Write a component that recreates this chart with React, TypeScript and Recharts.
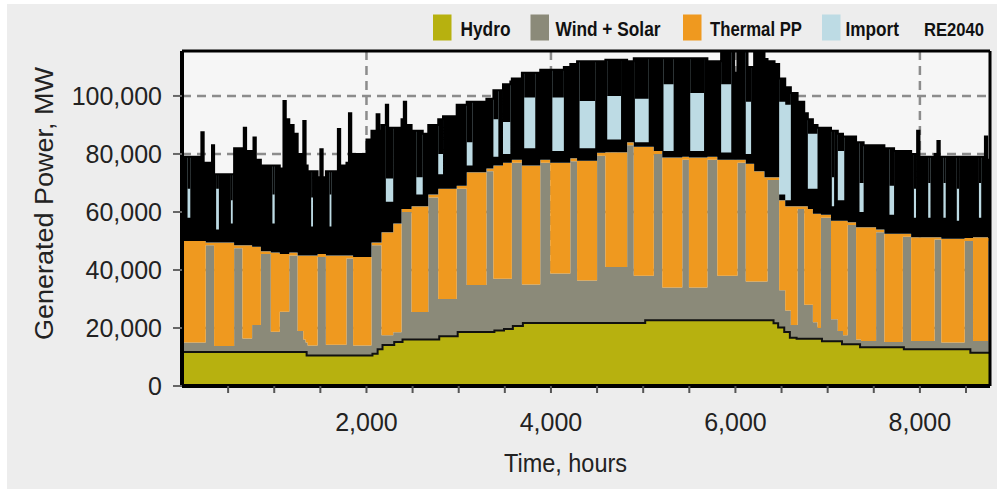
import React from 'react';
import { ComposedChart, Area, XAxis, YAxis, CartesianGrid, ReferenceLine } from 'recharts';

const N = null;

// Hour at which each row starts (values hold until the next row)
const hours = [
  0, 60, 90, 210, 235, 257, 325, 348, 370, 400, 530, 550,
  565, 655, 670, 695, 760, 775, 800, 855, 963, 980, 1005, 1060,
  1100, 1125, 1163, 1210, 1254, 1315, 1340, 1362, 1400, 1420, 1470, 1500,
  1525, 1560, 1600, 1620, 1690, 1715, 1783, 1810, 1835, 1855, 2000, 2054,
  2110, 2140, 2163, 2210, 2235, 2290, 2380, 2405, 2430, 2489, 2540, 2610,
  2670, 2778, 2830, 2978, 3087, 3150, 3300, 3376, 3430, 3480, 3560, 3576,
  3685, 3710, 3830, 3884, 3992, 4015, 4140, 4210, 4283, 4310, 4480, 4500,
  4590, 4610, 4760, 4826, 4898, 4910, 5011, 5060, 5115, 5207, 5220, 5330,
  5424, 5496, 5510, 5660, 5696, 5804, 5845, 5955, 5986, 6022, 6112, 6131,
  6170, 6203, 6315, 6348, 6424, 6474, 6540, 6601, 6674, 6746, 6785, 6840,
  6890, 6927, 6949, 7036, 7045, 7070, 7110, 7166, 7180, 7217, 7308, 7345,
  7362, 7390, 7525, 7615, 7670, 7720, 7815, 7837, 7905, 7935, 7958, 7970,
  7995, 8090, 8115, 8159, 8190, 8215, 8232, 8255, 8280, 8400, 8425, 8485,
  8558, 8576, 8640, 8665, 8705, 8730, 8739, 8760,
];

const hydro = [
  12100, 12100, 12100, 12100, 12100, 12100, 12100, 12100, 12100, 12100, 12100, 12100,
  12100, 12100, 12100, 12100, 12100, 12100, 12100, 12100, 12100, 12100, 12100, 12100,
  12100, 12100, 12100, 12100, 12100, 12100, 12100, 10900, 10900, 10900, 10900, 10900,
  10900, 10900, 10900, 10900, 10900, 10900, 10900, 10900, 10900, 10900, 10900, 11500,
  13000, 13000, 14500, 14500, 14500, 15500, 16400, 16400, 16400, 16400, 16400, 16400,
  16400, 17500, 17500, 19000, 19000, 19000, 19000, 19500, 19500, 20000, 20000, 21000,
  22100, 22100, 22100, 22100, 22100, 22100, 22100, 22100, 22100, 22100, 22100, 22100,
  22100, 22100, 22100, 22100, 22100, 22100, 23000, 23000, 23000, 23000, 23000, 23000,
  23000, 23000, 23000, 23000, 23000, 23000, 23000, 23000, 23000, 23000, 23000, 23000,
  23000, 23000, 23000, 23000, 22000, 20500, 19000, 17000, 16600, 16600, 16600, 16600,
  16600, 16600, 15800, 15800, 15800, 15800, 15800, 14700, 14700, 14700, 14700, 14700,
  13700, 13700, 13700, 13700, 13700, 13700, 13700, 13000, 13000, 13000, 13000, 13000,
  13000, 13000, 13000, 13000, 13000, 13000, 13000, 13000, 13000, 13000, 13000, 13000,
  11800, 11800, 11800, 11800, 11800, 11800, 11800, 11800,
];

const windSolar = [
  2900, 2900, 2900, 2900, 2900, 36400, 36400, 1700, 1700, 1700, 1700, 1700,
  35400, 4300, 4300, 4300, 8900, 8900, 8900, 33400, 6600, 6600, 6600, 13500,
  13500, 13500, 32900, 32900, 6900, 3900, 2900, 3100, 3100, 3100, 33600, 33600,
  33600, 3300, 3300, 3300, 3300, 3300, 33100, 33100, 33100, 3100, 3100, 37000,
  35500, 35500, 3000, 3000, 3000, 3000, 43600, 43600, 43600, 9100, 9100, 9100,
  48600, 12500, 12500, 49000, 15800, 15800, 55000, 17500, 17500, 17000, 17000, 56000,
  12900, 12900, 12900, 54900, 16700, 16700, 16700, 55400, 14300, 14300, 14300, 57300,
  18900, 18900, 18900, 60900, 15900, 15900, 15000, 15000, 57000, 11000, 11000, 11000,
  55000, 11000, 11000, 11000, 55000, 15000, 15000, 15000, 15000, 54000, 13000, 13000,
  13000, 13000, 13000, 48000, 49000, 12500, 7000, 4000, 44400, 11400, 11400, 5400,
  3400, 41400, 42200, 7200, 7200, 7200, 3200, 2800, 2800, 40800, 1300, 1300,
  1800, 1800, 39300, 1500, 1500, 1500, 37800, 38500, 2500, 2500, 2500, 2500,
  2500, 2500, 2500, 37500, 37500, 37500, 2000, 2000, 2000, 2000, 2000, 37000,
  38200, 3700, 3700, 3700, 3700, 3700, 38200, 38200,
];

const thermal = [
  35000, 35000, 35000, 35000, 35000, 1000, 1000, 35700, 35700, 35700, 35700, 35700,
  1000, 32100, 32100, 32100, 27000, 27000, 27000, 1000, 27300, 27300, 27300, 19900,
  19900, 19900, 1000, 1000, 26000, 29000, 30000, 31000, 31000, 31000, 1000, 1000,
  1000, 30800, 30800, 30800, 30800, 30800, 1000, 1000, 1000, 30500, 30500, 1000,
  1000, 1000, 35500, 35500, 35500, 37500, 1000, 1000, 1000, 36500, 36500, 36500,
  1000, 38000, 38000, 1000, 38900, 38900, 1000, 39000, 39000, 40000, 40000, 1000,
  41000, 41000, 41000, 1000, 38200, 38200, 38200, 1000, 41300, 41300, 41300, 1000,
  39600, 39600, 39600, 1000, 44500, 44500, 44500, 44500, 1000, 44800, 44800, 44800,
  1000, 44800, 44800, 44800, 1000, 40000, 40000, 40000, 40000, 1000, 40600, 40600,
  40600, 38000, 36000, 1000, 1000, 31000, 36000, 41000, 1000, 34000, 33000, 37400,
  39400, 1000, 1000, 34000, 34000, 34000, 38000, 39500, 39500, 1000, 38700, 38700,
  39200, 39200, 1000, 37300, 37300, 37300, 1000, 1000, 35800, 35800, 35800, 35800,
  35800, 35800, 35800, 800, 800, 800, 35800, 35800, 35800, 35800, 35800, 1000,
  1000, 35800, 35800, 35800, 35800, 35800, 1000, 1000,
];

const importMW = [
  29000, 29000, 29000, 37500, 27000, 27500, 33500, 23500, 23500, 23500, 23500, 23500,
  33500, 31500, 40500, 32500, 33000, 37700, 30000, 29500, 30000, 30000, 30000, 29500,
  52800, 46500, 44000, 41000, 35000, 46400, 31000, 29000, 29000, 29000, 26500, 36100,
  26500, 29000, 29000, 29000, 43600, 31000, 32000, 49000, 34000, 35500, 40500, 38500,
  44200, 38500, 37000, 44000, 36000, 33000, 31000, 37000, 29000, 26000, 26000, 25000,
  24000, 24000, 25000, 28000, 24300, 24300, 24000, 26000, 26000, 27000, 28000, 28000,
  32000, 32000, 32000, 31000, 32000, 32000, 33000, 32500, 34300, 34300, 34300, 31600,
  31900, 31900, 31900, 28000, 30500, 30500, 30500, 30500, 32000, 34200, 34200, 34200,
  34000, 34200, 34200, 34200, 33000, 34000, 37500, 37500, 30000, 37500, 38900, 33400,
  33400, 41500, 40700, 40000, 39000, 42000, 41000, 39000, 36000, 32000, 31000, 30600,
  29600, 30000, 30000, 31000, 31000, 31000, 30000, 29000, 29000, 29500, 29300, 29300,
  29300, 28300, 29000, 29500, 29500, 28500, 28500, 28500, 28700, 28700, 28700, 36700,
  27700, 27700, 27700, 28700, 33200, 27700, 28200, 28200, 28200, 28200, 28200, 28000,
  28000, 27700, 27700, 27700, 34700, 26700, 27000, 27000,
];

// Envelope of the dense hourly outlines: highest hourly thermal-top line and
// lowest hourly total line in the row (null: the outlines cover the whole import band)
const thermalLineMax = [
  N, 58000, N, N, N, N, N, N, 54000, N, 56000, N,
  N, N, N, N, N, N, N, N, N, 56000, N, N,
  N, N, N, N, N, N, N, N, 55000, N, N, N,
  N, N, 55000, N, N, N, N, N, N, N, N, N,
  N, N, N, 63500, 63500, N, N, N, N, N, 66000, N,
  N, 73000, N, N, 76000, N, N, 79000, N, 80000, N, N,
  N, 82000, N, N, N, 81000, N, N, N, 82000, N, N,
  N, 85000, N, N, N, 84000, 84000, N, N, N, 81000, N,
  N, N, 81000, N, N, N, 80500, N, N, N, 80000, 80000,
  N, N, N, N, N, 66000, 64000, N, N, N, 68000, 68000,
  N, N, N, N, 62000, N, 64000, 64000, N, N, N, 60000,
  60000, N, N, N, 59000, N, N, N, N, 58000, N, N,
  N, 58000, N, N, N, N, N, 58000, N, 57000, N, N,
  N, N, 58000, N, N, N, N, N,
];

const totalLineMin = [
  N, 68000, N, N, N, N, N, N, 68000, N, 64000, N,
  N, N, N, N, N, N, N, N, N, 66000, N, N,
  N, N, N, N, N, N, N, N, 65000, N, N, N,
  N, N, 66000, N, N, N, N, N, N, N, N, N,
  N, N, N, 71500, 71500, N, N, N, N, N, 72000, N,
  N, 80000, N, N, 84000, N, N, 92000, N, 91000, N, N,
  N, 99500, N, N, N, 99500, N, N, N, 98300, N, N,
  N, 100000, N, N, N, 99000, 99000, N, N, N, 104000, N,
  N, N, 101000, N, N, N, 104000, N, N, N, 98000, 98000,
  N, N, N, N, N, 98000, 97000, N, N, N, 87000, 87000,
  N, N, N, N, 72000, N, 81000, 81000, N, N, N, 70000,
  70000, N, N, N, 69000, N, N, N, N, 68000, N, N,
  N, 70000, N, N, N, N, N, 70000, N, 68000, N, N,
  N, N, 70000, N, N, N, N, N,
];

const xTicks = [500, 1000, 1500, 2000, 2500, 3000, 3500, 4000, 4500, 5000, 5500, 6000, 6500, 7000, 7500, 8000, 8500];
const xGrid = [2000, 4000, 6000, 8000];
const yTicks = [0, 20000, 40000, 60000, 80000, 100000];
const yGrid = [20000, 40000, 60000, 80000, 100000];
const yMinorTicks = [
  0, 5000, 10000, 15000, 20000, 25000, 30000, 35000, 40000, 45000, 50000, 55000,
  60000, 65000, 70000, 75000, 80000, 85000, 90000, 95000, 100000, 105000, 110000, 115000,
];
const yMax = 115500;
const xMax = 8760;

const seriesNames = ['Hydro', 'Wind + Solar', 'Thermal PP', 'Import'];
const scenario = 'RE2040';

const COLORS = {
  hydro: '#b7b10f',
  wind: '#8b8a79',
  thermal: '#ef991f',
  import: '#bddbe4',
};

const FONT = '"Liberation Sans", Arial, sans-serif';

const rows = hours.map((h, i) => {
  const thermalTop = hydro[i] + windSolar[i] + thermal[i];
  const total = thermalTop + importMW[i];
  const lo = thermalLineMax[i] ?? total;
  const hi = totalLineMin[i] ?? total;
  return {
    hour: h,
    hydro: hydro[i],
    windSolar: windSolar[i],
    thermal: thermal[i],
    importMW: importMW[i],
    thermalLines: [thermalTop, lo],
    totalLines: [hi, total],
  };
});

const fmt = (v: number) => v.toLocaleString('en-US');

function Overlay() {
  const legend = [
    { name: seriesNames[0], color: COLORS.hydro, sx: 433, tx: 460.5, tl: 50 },
    { name: seriesNames[1], color: COLORS.wind, sx: 530.5, tx: 555.5, tl: 105 },
    { name: seriesNames[2], color: COLORS.thermal, sx: 683, tx: 710, tl: 92 },
    { name: seriesNames[3], color: COLORS.import, sx: 822, tx: 845.5, tl: 53.5 },
  ];
  return (
    <svg width={997} height={489} style={{ position: 'absolute', left: 0, top: 0, pointerEvents: 'none' }}>
      {legend.map((l) => (
        <g key={l.name}>
          <rect x={l.sx} y={14.5} width={18.5} height={26} fill={l.color} />
          <text
            x={l.tx}
            y={36}
            fontFamily={FONT}
            fontWeight="bold"
            fontSize={21}
            fill="#111"
            textLength={l.tl}
            lengthAdjust="spacingAndGlyphs"
          >
            {l.name}
          </text>
        </g>
      ))}
      <text
        x={984}
        y={36}
        textAnchor="end"
        fontFamily={FONT}
        fontWeight="bold"
        fontSize={19}
        fill="#111"
        textLength={60}
        lengthAdjust="spacingAndGlyphs"
      >
        {scenario}
      </text>
      <text x={504} y={472} fontFamily={FONT} fontSize={25} fill="#222" textLength={123} lengthAdjust="spacingAndGlyphs">
        Time, hours
      </text>
      <text
        transform="translate(53,340) rotate(-90)"
        x={0}
        y={0}
        fontFamily={FONT}
        fontSize={25}
        fill="#222"
        textLength={273}
        lengthAdjust="spacingAndGlyphs"
      >
        Generated Power, MW
      </text>
    </svg>
  );
}

export default function App() {
  return (
    <div style={{ position: 'absolute', left: 0, top: 0, width: 997, height: 489, background: '#ffffff', overflow: 'hidden' }}>
      <div style={{ position: 'absolute', left: 7, top: 4, width: 990, height: 485, background: '#ededed' }} />
      <div style={{ position: 'absolute', left: 0, top: 0 }}>
        <ComposedChart width={997} height={489} data={rows} margin={{ top: 51, right: 7, left: 122, bottom: 43 }}>
          <CartesianGrid
            horizontalValues={yGrid}
            verticalValues={xGrid}
            stroke="#8c8c8c"
            strokeWidth={2.5}
            strokeDasharray="9 6"
            fill="#f6f6f6"
            fillOpacity={1}
          />
          <XAxis
            dataKey="hour"
            type="number"
            domain={[0, xMax]}
            ticks={xTicks}
            interval={0}
            height={60}
            tickSize={7}
            tickMargin={20}
            tickFormatter={(v: number) => (v % 2000 === 0 ? fmt(v) : '')}
            tick={{ fontSize: 25, fill: '#222', fontFamily: FONT }}
            tickLine={{ stroke: '#555', strokeWidth: 2 }}
            axisLine={{ stroke: '#000', strokeWidth: 4 }}
          />
          <YAxis
            yAxisId="minor"
            width={0}
            domain={[0, yMax]}
            ticks={yMinorTicks}
            interval={0}
            tickSize={4}
            tickFormatter={() => ''}
            tickLine={{ stroke: '#666', strokeWidth: 1.5 }}
            axisLine={false}
          />
          <YAxis
            width={60}
            domain={[0, yMax]}
            ticks={yTicks}
            interval={0}
            tickSize={9}
            tickMargin={11}
            tickFormatter={fmt}
            tick={{ fontSize: 25, fill: '#222', fontFamily: FONT }}
            tickLine={{ stroke: '#666', strokeWidth: 2 }}
            axisLine={{ stroke: '#000', strokeWidth: 4 }}
          />
          <Area type="stepAfter" dataKey="hydro" stackId="gen" fill={COLORS.hydro} fillOpacity={1} stroke="#111" strokeWidth={4} isAnimationActive={false} />
          <Area type="stepAfter" dataKey="windSolar" stackId="gen" fill={COLORS.wind} fillOpacity={1} stroke="none" isAnimationActive={false} />
          <Area type="stepAfter" dataKey="thermal" stackId="gen" fill={COLORS.thermal} fillOpacity={1} stroke="none" isAnimationActive={false} />
          <Area type="stepAfter" dataKey="importMW" stackId="gen" fill={COLORS.import} fillOpacity={1} stroke="#000" strokeWidth={2} isAnimationActive={false} />
          <Area type="stepAfter" dataKey="thermalLines" fill="#000" fillOpacity={1} stroke="none" isAnimationActive={false} />
          <Area type="stepAfter" dataKey="totalLines" fill="#000" fillOpacity={1} stroke="none" isAnimationActive={false} />
          <ReferenceLine y={yMax} stroke="#000" strokeWidth={3} />
          <ReferenceLine x={xMax} stroke="#000" strokeWidth={3} />
        </ComposedChart>
      </div>
      <Overlay />
    </div>
  );
}
